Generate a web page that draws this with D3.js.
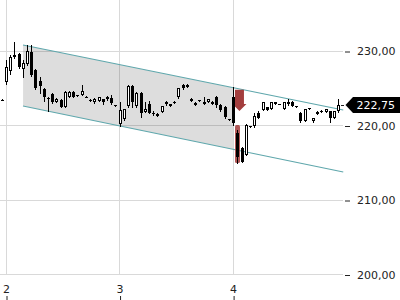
<!DOCTYPE html>
<html>
<head>
<meta charset="utf-8">
<script src="https://cdn.jsdelivr.net/npm/d3@7"></script>
<style>
  html, body { margin: 0; padding: 0; background: #fff; }
  svg { display: block; }
  text { font-family: "DejaVu Sans", sans-serif; font-size: 11px; }
</style>
</head>
<body>
<svg id="chart" width="400" height="300"></svg>
<script>
// ---------- data ----------
const dayTicks = [2, 3, 4];
const priceTicks = [200, 210, 220, 230];
const sessionsPerDay = 27;
const firstIndex = -1;

const open = [223.42,
  225.84,227.32,229.13,229.60,227.58,228.26,229.87,227.45,225.97,224.90,223.73,224.23,223.22,223.42,222.48,223.83,224.50,224.03,224.09,223.89,223.42,223.09,223.29,223.49,223.49,223.69,222.75,
  220.20,220.87,222.62,225.30,222.62,224.36,221.81,222.95,221.74,221.34,221.81,223.09,222.62,223.22,223.76,225.37,225.50,223.62,223.02,223.36,223.22,223.15,223.22,223.83,222.75,222.48,220.87,
  223.83,218.99,216.98,216.04,219.87,219.87,221.72,222.08,222.42,222.28,223.09,222.89,222.21,223.22,223.22,222.62,221.68,220.60,222.35,220.54,221.81,221.95,221.81,221.88,221.07,221.88];
const high = [223.49,
  228.79,229.46,231.21,229.73,228.79,230.81,230.81,227.58,226.51,225.03,223.83,224.36,223.69,223.56,224.63,224.63,224.63,224.03,225.44,223.96,223.56,223.69,223.83,223.56,223.96,224.09,222.75,
  223.15,222.21,225.44,225.44,224.50,224.50,223.15,223.29,221.95,221.68,222.62,223.29,222.95,223.29,225.03,225.57,225.57,223.69,223.15,223.36,223.83,223.56,223.29,223.96,222.89,222.62,220.87,
  225.17,219.40,217.11,220.20,219.93,221.68,221.95,223.15,222.48,223.15,223.15,222.89,223.15,223.56,223.29,222.62,221.81,222.21,222.35,221.01,221.88,222.08,222.28,221.95,221.95,223.56];
const low = [223.36,
  225.57,226.91,229.06,227.72,226.51,228.12,226.64,224.90,224.36,223.29,221.95,223.02,223.15,222.48,222.48,223.83,223.83,223.96,224.09,223.83,223.29,223.02,223.29,222.89,223.42,222.89,222.62,
  219.93,220.74,222.48,222.48,222.48,221.14,221.81,221.68,221.41,221.28,221.81,222.75,222.62,223.02,223.69,224.90,225.17,223.29,222.75,223.29,222.89,223.15,222.89,222.48,221.95,221.01,220.74,
  220.07,214.97,215.10,216.04,219.80,219.80,221.01,222.08,222.08,222.21,222.89,222.82,222.21,222.75,222.62,222.55,220.47,220.60,222.21,220.47,221.54,221.81,221.81,220.47,221.07,221.81];
const close = [223.42,
  227.85,229.19,229.46,227.85,228.39,230.00,226.78,225.03,225.30,223.83,223.62,223.15,223.56,222.48,224.50,224.50,223.83,223.96,224.63,223.83,223.36,223.62,223.76,223.22,223.83,223.02,222.68,
  222.08,222.15,225.30,223.15,224.36,221.68,222.15,221.74,221.54,221.61,222.62,222.82,222.89,223.06,225.03,224.97,225.17,223.29,222.75,223.29,222.95,223.49,222.89,222.75,222.08,221.14,220.74,
  220.34,215.77,215.10,220.13,219.80,221.28,221.07,223.09,222.08,223.09,222.89,222.82,223.09,222.82,222.62,222.55,220.54,222.15,222.28,221.01,221.54,221.88,222.21,220.94,221.88,222.75];

// trend channel (day, price)
const channelDays = [2.15, 4.97];
const channelUpper = [230.81, 222.08];
const channelLower = [222.62, 213.76];
const channelFillEnd = 4;

// signal marks
const arrowDay = 4.056, arrowFrom = 224.8, arrowTo = 221.95;
const gapDay = 4 + 1 / 27, gapTop = 220.07, gapBottom = 214.97;

// ---------- chart ----------
const svg = d3.select("#chart");
const x = d3.scaleLinear().domain([2, 5]).range([6, 6 + 3 * 113.55]);
const y = d3.scaleLinear().domain([200, 230]).range([274.5, 51]);
const plotRight = 343, plotBottom = 274.5;
const fmt = d3.formatLocale({decimal: ",", thousands: ".", grouping: [3], currency: ["", ""]}).format(".2f");
const px = v => Math.floor(v) + 0.5;

// grid
const grid = svg.append("g").attr("stroke", "#d9d9d9").attr("stroke-width", 1);
priceTicks.forEach(p => grid.append("line")
  .attr("x1", 0).attr("x2", plotRight).attr("y1", px(y(p))).attr("y2", px(y(p))));
dayTicks.forEach(d => grid.append("line")
  .attr("x1", px(x(d))).attr("x2", px(x(d))).attr("y1", 0).attr("y2", plotBottom));

// channel fill
const lineAt = (arr, d) => arr[0] + (arr[1] - arr[0]) * (d - channelDays[0]) / (channelDays[1] - channelDays[0]);
const fillPts = [
  [channelDays[0], channelUpper[0]],
  [channelFillEnd, lineAt(channelUpper, channelFillEnd)],
  [channelFillEnd, lineAt(channelLower, channelFillEnd)],
  [channelDays[0], channelLower[0]]
];
svg.append("path")
  .attr("d", d3.line().x(d => x(d[0])).y(d => y(d[1]))(fillPts) + "Z")
  .attr("fill", "#000").attr("fill-opacity", 0.135);

// channel lines
[channelUpper, channelLower].forEach(arr => svg.append("line")
  .attr("x1", x(channelDays[0])).attr("y1", y(arr[0]))
  .attr("x2", x(channelDays[1])).attr("y2", y(arr[1]))
  .attr("stroke", "#5fa7ac").attr("stroke-width", 1.2));

// gap highlight
const gx = Math.round(x(gapDay));
svg.append("rect")
  .attr("x", gx - 2).attr("width", 5)
  .attr("y", y(gapTop)).attr("height", y(gapBottom) - y(gapTop))
  .attr("rx", 1.5)
  .attr("fill", "#a23a3a").attr("fill-opacity", 0.85);

// arrow
const ax = x(arrowDay), aTop = y(arrowFrom), aTip = y(arrowTo);
const headH = 7, shaftW = 4.5, headW = 7;
svg.append("path")
  .attr("d", `M${ax - shaftW},${aTop} L${ax + shaftW},${aTop} L${ax + shaftW},${aTip - headH}
    L${ax + headW},${aTip - headH} L${ax},${aTip} L${ax - headW},${aTip - headH} L${ax - shaftW},${aTip - headH} Z`)
  .attr("fill", "#9e3434").attr("fill-opacity", 0.95);

// candles
const candles = open.map((o, i) => ({
  t: 2 + (firstIndex + i) / sessionsPerDay, o, h: high[i], l: low[i], c: close[i]
}));
const cg = svg.append("g");
candles.forEach(d => {
  const cx = Math.round(x(d.t));
  const top = Math.round(y(Math.max(d.o, d.c)));
  const bot = Math.round(y(Math.min(d.o, d.c)));
  cg.append("line")
    .attr("x1", cx + 0.5).attr("x2", cx + 0.5)
    .attr("y1", Math.round(y(d.h))).attr("y2", Math.round(y(d.l)) + 1)
    .attr("stroke", "#000").attr("stroke-width", 1);
  const hgt = bot - top;
  if (d.c > d.o && hgt >= 2) {
    cg.append("rect")
      .attr("x", cx - 0.5).attr("width", 2)
      .attr("y", top + 0.5).attr("height", hgt - 1)
      .attr("fill", "#fff").attr("stroke", "#000").attr("stroke-width", 1);
  } else {
    cg.append("rect")
      .attr("x", cx - 1).attr("width", 3)
      .attr("y", top).attr("height", Math.max(1, hgt))
      .attr("fill", "#000");
  }
});

// right price axis
const yAxis = d3.axisRight(y).tickValues(priceTicks).tickSize(5).tickPadding(7).tickFormat(fmt);
const ya = svg.append("g").attr("transform", `translate(345,0)`).call(yAxis);
ya.select(".domain").remove();
ya.selectAll(".tick line").attr("stroke", "#222").attr("transform", "translate(0,0.5)");
ya.selectAll(".tick text").attr("fill", "#222").style("font-size", "11px").style("font-family", "DejaVu Sans");

// bottom day axis (labels above the ticks)
const xAxis = d3.axisTop(x).tickValues(dayTicks).tickSize(4).tickPadding(3).tickFormat(d3.format("d"));
const xa = svg.append("g").attr("transform", `translate(0,300)`).call(xAxis);
xa.select(".domain").remove();
xa.selectAll(".tick line").attr("stroke", "#222").attr("transform", "translate(0.5,0)");
xa.selectAll(".tick text").attr("fill", "#222").style("font-size", "11px").style("font-family", "DejaVu Sans");

// last price label
const last = close[close.length - 1];
const ly = y(last);
svg.append("line").attr("x1", 341).attr("x2", 344).attr("y1", px(ly)).attr("y2", px(ly))
  .attr("stroke", "#222");
svg.append("path")
  .attr("d", `M345.5,${ly} L353,${ly - 8} L400,${ly - 8} L400,${ly + 8} L353,${ly + 8} Z`)
  .attr("fill", "#000");
svg.append("text").attr("x", 356.5).attr("y", ly + 4)
  .attr("fill", "#fff").text(fmt(last));
</script>
</body>
</html>
